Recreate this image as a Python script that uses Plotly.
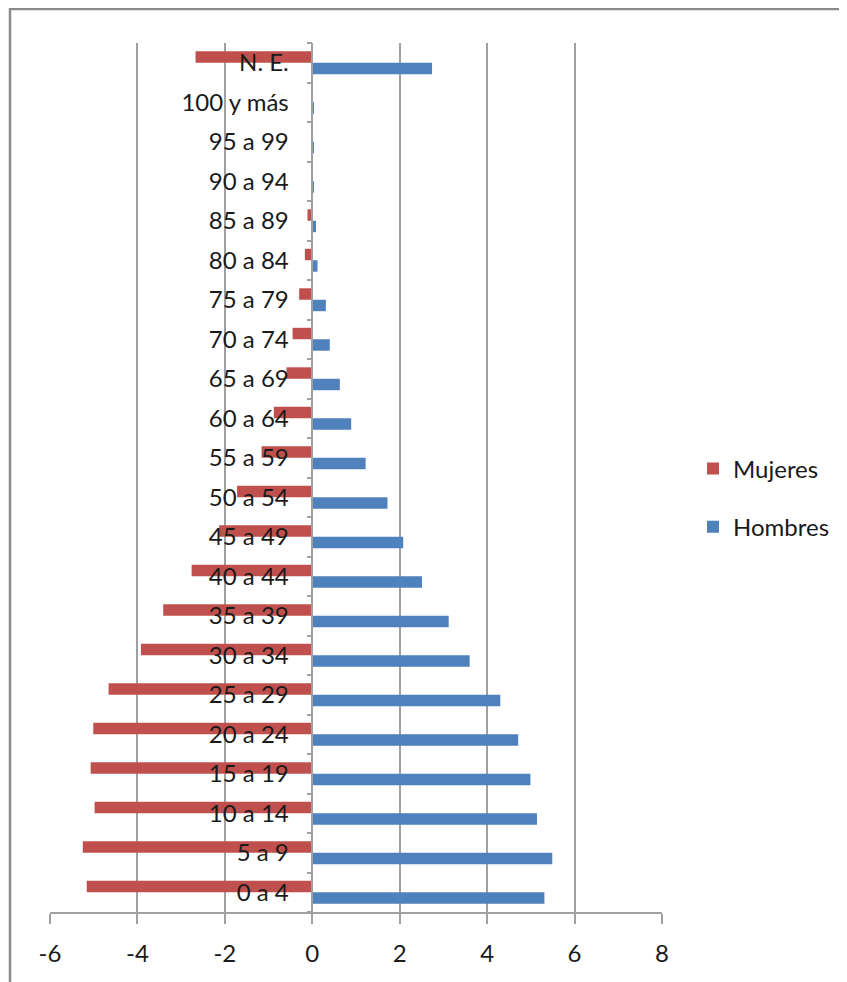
import plotly.graph_objects as go

categories = ["0 a 4", "5 a 9", "10 a 14", "15 a 19", "20 a 24", "25 a 29", "30 a 34",
              "35 a 39", "40 a 44", "45 a 49", "50 a 54", "55 a 59", "60 a 64", "65 a 69",
              "70 a 74", "75 a 79", "80 a 84", "85 a 89", "90 a 94", "95 a 99", "100 y más", "N. E."]

hombres = [5.31, 5.49, 5.14, 4.99, 4.71, 4.30, 3.60, 3.12, 2.51, 2.08, 1.72, 1.22, 0.89, 0.63,
           0.40, 0.31, 0.12, 0.085, 0.04, 0.03, 0.03, 2.74]
mujeres = [-5.16, -5.25, -4.98, -5.07, -5.01, -4.66, -3.92, -3.41, -2.76, -2.13, -1.72, -1.16,
           -0.88, -0.59, -0.45, -0.30, -0.17, -0.11, -0.01, -0.01, -0.01, -2.67]

x_ticks = [-6, -4, -2, 0, 2, 4, 6, 8]

FONT = "Lato"
GRID = "#A0A0A0"
TXT = "#1a1a1a"
OFF = 8  # page body margin

fig = go.Figure()
fig.add_trace(go.Bar(y=categories, x=hombres, orientation="h", name="Hombres",
                     marker=dict(color="#4F81BD", line=dict(width=0)),
                     legendgroup="h", legendrank=2))
fig.add_trace(go.Bar(y=categories, x=mujeres, orientation="h", name="Mujeres",
                     marker=dict(color="#C0504D", line=dict(width=0)),
                     legendgroup="m", legendrank=1))

W, H = 847, 982
L, T = 50 - OFF, 43 - OFF
pw, ph = 612, 869
R = W - L - pw
B = H - T - ph


def px_x(p):
    return (p - OFF - L) / pw


def px_y(p):
    return (T + ph - (p - OFF)) / ph


fig.update_layout(
    width=W, height=H,
    margin=dict(l=L, r=R, t=T, b=B),
    paper_bgcolor="white", plot_bgcolor="white",
    barmode="group", bargap=0.42, bargroupgap=0,
    font=dict(family=FONT, size=24, color=TXT),
    showlegend=True,
    legend=dict(x=px_x(693), y=px_y(498), xanchor="left", yanchor="middle",
                traceorder="grouped", tracegroupgap=24,
                font=dict(family=FONT, size=24, color=TXT),
                bgcolor="rgba(0,0,0,0)"),
    xaxis=dict(range=[-6, 8], tickvals=x_ticks, ticktext=[str(v) for v in x_ticks],
               showgrid=True, gridcolor=GRID, gridwidth=1.5,
               zeroline=True, zerolinecolor=GRID, zerolinewidth=1.5,
               showline=True, linecolor=GRID, linewidth=1.5,
               ticks="outside", ticklen=10, tickcolor=GRID, tickwidth=1.5,
               ticklabelstandoff=9,
               tickfont=dict(family=FONT, size=24, color=TXT)),
    yaxis=dict(type="category", categoryorder="array", categoryarray=categories,
               anchor="free", position=6 / 14, showgrid=False, zeroline=False,
               showline=True, linecolor=GRID, linewidth=1.5,
               ticks="outside", ticklen=5, tickcolor=GRID, tickwidth=1.5,
               tickson="boundaries", ticklabelstandoff=18,
               tickfont=dict(family=FONT, size=24, color=TXT)),
)

# outer chart border
fig.add_shape(type="rect", xref="paper", yref="paper",
              x0=px_x(10), x1=px_x(900),
              y0=px_y(1000), y1=px_y(9),
              line=dict(color="#8A8A8A", width=2.5), fillcolor="rgba(0,0,0,0)", layer="below")

fig.write_html("out.html")
